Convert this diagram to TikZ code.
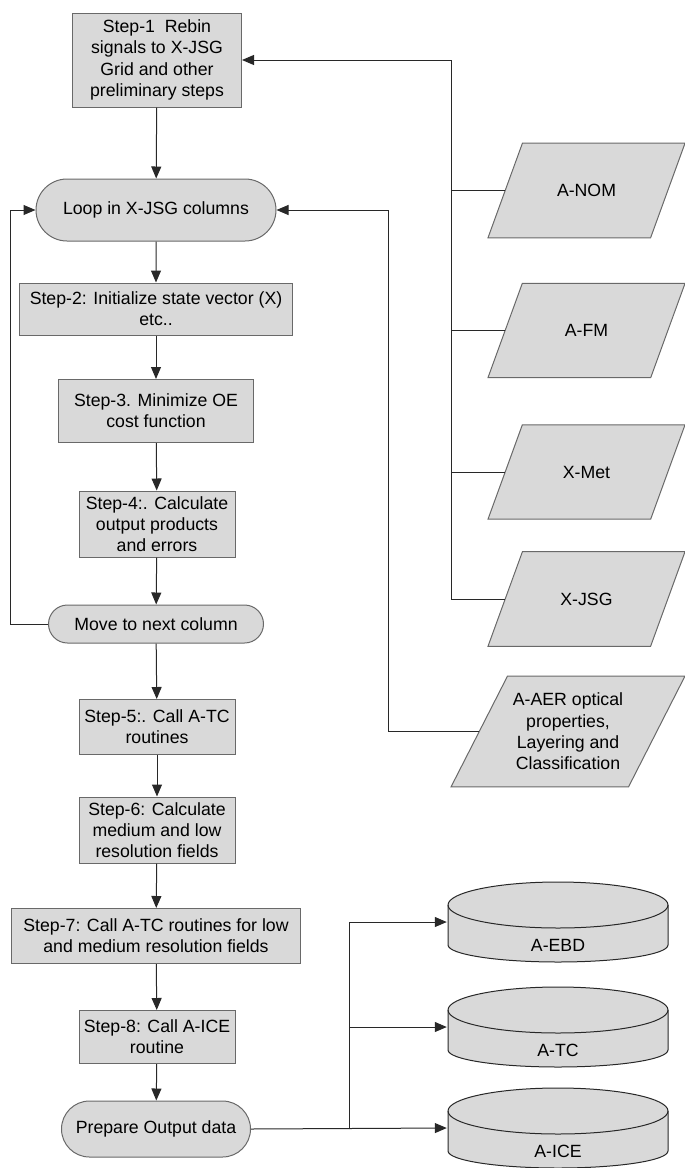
\documentclass[tikz,border=0pt]{standalone}
\usepackage{fontspec}
\setmainfont{Liberation Sans}
\usetikzlibrary{positioning,arrows.meta,shapes.geometric,shapes.misc}

\definecolor{boxgray}{RGB}{217,217,217}
\definecolor{edgegray}{RGB}{105,105,105}
\definecolor{linegray}{RGB}{40,40,40}

\begin{document}
\begin{tikzpicture}[
    x=1pt, y=-1pt,
    every node/.style={font=\fontsize{17.7pt}{21.3pt}\selectfont, align=center, inner sep=2pt},
    stepbox/.style={draw=edgegray, fill=boxgray, rectangle, line width=1pt},
    pill/.style={draw=edgegray, fill=boxgray, rounded rectangle, line width=1pt},
    datain/.style={draw=edgegray, fill=boxgray, trapezium, trapezium stretches body, trapezium left angle=70, trapezium right angle=110, minimum width=197pt, inner ysep=41pt, line width=1pt},
    store/.style={minimum width=222pt, minimum height=82pt, inner sep=0pt, text height=70.4pt, text depth=11.6pt,
        path picture={
            \draw[draw=linegray, fill=boxgray, line width=1pt]
                ([shift={(1pt,-24pt)}]path picture bounding box.north west)
                -- ([shift={(1pt,18pt)}]path picture bounding box.south west)
                arc[start angle=180, end angle=360, x radius=110pt, y radius=17pt]
                -- ([shift={(-1pt,-24pt)}]path picture bounding box.north east)
                arc[start angle=0, end angle=180, x radius=110pt, y radius=23pt] -- cycle;
            \draw[draw=linegray, line width=1pt]
                ([shift={(1pt,-24pt)}]path picture bounding box.north west)
                arc[start angle=180, end angle=360, x radius=110pt, y radius=23pt];
        }},
    arrow/.style={-{Triangle[length=12pt,width=10pt]}, draw=linegray, line width=1pt},
    link/.style={draw=linegray, line width=1pt}
]
\useasboundingbox (0,0) rectangle (685,1168);

% main column
\node[stepbox, minimum width=169pt, minimum height=94pt] (s1) at (157,60) {Step-1\ \ Rebin\\signals to X-JSG\\Grid and other\\preliminary steps};
\node[pill, minimum width=244pt, minimum height=62pt] (loop) at (156,210) {Loop in X-JSG columns};
\node[stepbox, minimum width=273pt, minimum height=52pt] (s2) at (156,309) {Step-2: Initialize state vector (X)\\etc..};
\node[stepbox, minimum width=195pt, minimum height=63pt] (s3) at (156,411) {Step-3. Minimize OE\\cost function};
\node[stepbox, minimum width=156pt, minimum height=66pt] (s4) at (157,524) {Step-4:. Calculate\\output products\\and errors};
\node[pill, minimum width=219pt, minimum height=38pt] (move) at (156,624) {Move to next column};
\node[stepbox, minimum width=156pt, minimum height=55pt] (s5) at (157,727) {Step-5:. Call A-TC\\routines};
\node[stepbox, minimum width=156pt, minimum height=66pt] (s6) at (157,830) {Step-6: Calculate\\medium and low\\resolution fields};
\node[stepbox, minimum width=289pt, minimum height=55pt] (s7) at (156,936) {Step-7: Call A-TC routines for low\\and medium resolution fields};
\node[stepbox, minimum width=156pt, minimum height=53pt] (s8) at (157,1037) {Step-8: Call A-ICE\\routine};
\node[pill, minimum width=193pt, minimum height=56pt] (prep) at (156,1129) {Prepare Output data};

% input data
\node[datain] (anom) at (586.5,190.5) {A-NOM};
\node[datain] (afm) at (586.5,330.5) {A-FM};
\node[datain] (xmet) at (586.5,472) {X-Met};
\node[datain] (xjsg) at (586.5,599) {X-JSG};
\node[datain, trapezium left angle=63, trapezium right angle=117, minimum width=234pt, inner ysep=17pt] (aaer) at (568,731.5) {A-AER optical\\properties,\\Layering and\\Classification};

% output stores
\node[store] (aebd) at (558,922) {A-EBD};
\node[store] (atc) at (558,1027) {A-TC};
\node[store] (aice) at (558,1128) {A-ICE};

\coordinate (lbus) at (10.5,0);
\coordinate (rbus) at (388,0);
\coordinate (inbus) at (451,0);
\coordinate (obus) at (349,0);

\draw[arrow] (s1) -- (loop);
\draw[arrow] (loop) -- (s2);
\draw[arrow] (s2) -- (s3);
\draw[arrow] (s3) -- (s4);
\draw[arrow] (s4) -- (move);
\draw[arrow] (move) -- (s5);
\draw[arrow] (s5) -- (s6);
\draw[arrow] (s6) -- (s7);
\draw[arrow] (s7) -- (s8);
\draw[arrow] (s8) -- (prep);

\draw[arrow] (move.west) -| (lbus |- loop.west) -- (loop.west);
\draw[arrow] (aaer.west) -| (rbus |- loop.east) -- (loop.east);

\draw[arrow] (xjsg.west) -| (inbus |- s1.east) -- (s1.east);
\draw[link] (anom.west) -- (anom.west -| inbus);
\draw[link] (afm.west) -- (afm.west -| inbus);
\draw[link] (xmet.west) -- (xmet.west -| inbus);

\draw[arrow] (prep.east) -- (aice.west);
\draw[arrow] (prep.east -| obus) |- (atc.west);
\draw[arrow] (prep.east -| obus) |- (aebd.west);
\end{tikzpicture}
\end{document}
